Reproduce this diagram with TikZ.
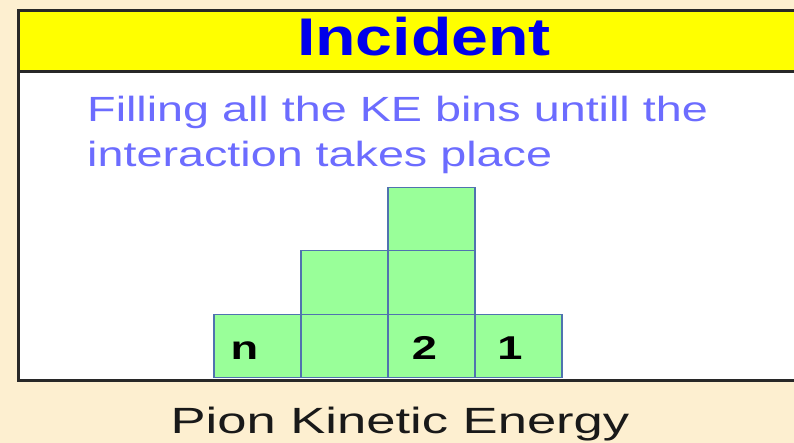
\documentclass[tikz,border=0pt]{standalone}
\usepackage{fontspec}
\setmainfont{Liberation Sans}
\usepackage{graphicx}
\definecolor{bgbeige}{RGB}{253,239,208}
\definecolor{hdryellow}{RGB}{255,255,0}
\definecolor{titleblue}{RGB}{0,0,235}
\definecolor{notecol}{RGB}{108,108,255}
\definecolor{binfill}{RGB}{153,255,153}
\definecolor{binedge}{RGB}{80,115,175}
\definecolor{framecol}{RGB}{40,40,40}
\definecolor{axiscol}{RGB}{25,25,25}
\tikzset{
  binbox/.style={draw=binedge, fill=binfill, line width=1.3pt, minimum width=87pt, minimum height=63.5pt, inner sep=0pt, outer sep=0pt},
  binlabel/.style={anchor=base, inner sep=0pt, font=\fontsize{33}{36}\selectfont\bfseries, text=black},
  notetext/.style={anchor=base west, inner sep=0pt, font=\fontsize{35}{40}\selectfont, text=notecol},
}
\begin{document}
\begin{tikzpicture}[x=1pt,y=-1pt]
\useasboundingbox (0,0) rectangle (794,443);
\clip (0,0) rectangle (794,443);
\fill[bgbeige] (0,0) rectangle (794,443);
% frame and header
\node[draw=framecol, fill=white, line width=2.6pt, minimum width=823pt, minimum height=370pt, anchor=north west, inner sep=0pt] (frame) at (17,9) {};
\node[draw=framecol, fill=hdryellow, line width=2.6pt, minimum width=823pt, minimum height=61pt, anchor=north west, inner sep=0pt] (header) at (17,9) {};
\node[anchor=base, inner sep=0pt, font=\fontsize{53}{56}\selectfont\bfseries, text=titleblue] (title) at (424,56) {\scalebox{1.25}[1]{Incident}};
% note text
\node[notetext] (note1) at (87,122) {\scalebox{1.335}[1]{Filling all the KE bins untill the}};
\node[notetext] (note2) at (87,167) {\scalebox{1.335}[1]{interaction takes place}};
% bins
\node[binbox] (b1) at (257.5,346) {};
\node[binbox] (b2) at (344.5,346) {};
\node[binbox] (b3) at (431.5,346) {};
\node[binbox] (b4) at (518.5,346) {};
\node[binbox] (b5) at (344.5,282.5) {};
\node[binbox] (b6) at (431.5,282.5) {};
\node[binbox] (b7) at (431.5,219) {};
% labels
\node[binlabel] (ln) at (244.5,359) {\scalebox{1.37}[1]{n}};
\node[binlabel] (l2) at (424.5,359) {\scalebox{1.37}[1]{2}};
\node[binlabel] (l1) at (510,359) {\scalebox{1.37}[1]{1}};
% axis label
\node[anchor=base, inner sep=0pt, font=\fontsize{36.5}{40}\selectfont, text=axiscol] (axis) at (400,433) {\scalebox{1.44}[1]{Pion Kinetic Energy}};
\end{tikzpicture}
\end{document}
